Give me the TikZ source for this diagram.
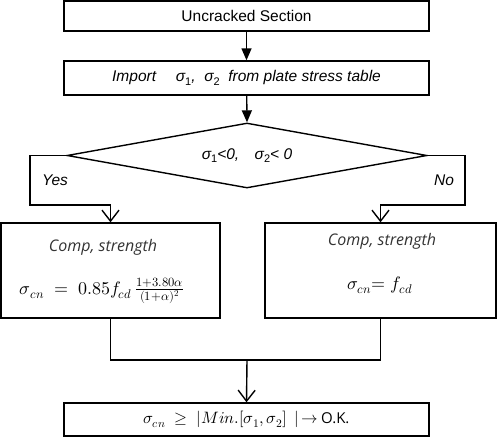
\documentclass[tikz,border=0pt]{standalone}
\usepackage{fontspec}
\usepackage{unicode-math}
\setmainfont{Liberation Sans}
\newfontfamily\lightfont{Open Sans}
\usetikzlibrary{arrows.meta,shapes.geometric}
\newcommand{\sg}[1]{σ\raisebox{-3.5pt}{\fontsize{11}{11}\selectfont\upshape #1}}
\tikzset{
  box/.style={draw, line width=1.4pt, inner sep=0pt, minimum height=#1},
  txt/.style={inner sep=0pt, font=\fontsize{15.5}{18}\selectfont},
  lighttxt/.style={inner sep=0pt, font=\fontsize{16}{19}\selectfont\lightfont\itshape, text=black!80},
  mathtxt/.style={inner sep=0pt, font=\fontsize{18}{21}\selectfont},
  bmathtxt/.style={inner sep=0pt, font=\fontsize{16.5}{20}\selectfont},
  conn/.style={line width=1.4pt},
  filledarrow/.style={conn, -{Triangle[length=12pt,width=10pt]}},
  openarrow/.style={conn, -{Straight Barb[length=11pt,width=17pt,line width=1.4pt]}}
}
\begin{document}
\begin{tikzpicture}[x=1pt,y=-1pt]
\useasboundingbox (0,0) rectangle (500,442);
% boxes
\node[box=30pt, minimum width=365pt, txt] (b1) at (246.5,16) {Uncracked Section};
\node[box=34pt, minimum width=365pt, txt] (b2) at (246.5,78) {\itshape Import\quad\ \sg{1},\ \ \sg{2}\ \ from plate stress table};
\node[draw, line width=1.4pt, diamond, aspect=5.54, inner sep=0pt, minimum width=360pt, minimum height=65pt, txt] (dia) at (247,155.5) {\itshape \sg{1}<0,\quad \sg{2}< 0};
\node[box=95pt, minimum width=219pt] (lb) at (110.5,270.5) {};
\node[box=95pt, minimum width=231pt] (rb) at (380.5,270.5) {};
\node[box=33pt, minimum width=365pt, bmathtxt] (bb) at (246.5,419.5) {$\sigma_{cn}\;\geq\;|Min.[\sigma_1,\sigma_2]\;\,|\,{\rightarrow}$\,{\lightfont\fontsize{15}{18}\selectfont O.K.}};
% texts in boxes
\node[lighttxt] (lc1) at (103,247) {Comp, strength};
\node[mathtxt] (lf) at (102,291) {$\sigma_{cn}\;=\;0.85f_{cd}\,\frac{1+3.80\alpha}{(1+\alpha)^2}$};
\node[lighttxt] (rc1) at (382,241) {Comp, strength};
\node[mathtxt] (rf) at (380,285) {$\sigma_{cn}{=}\;f_{cd}$};
% labels
\node[txt, font=\fontsize{15.5}{18}\selectfont\itshape] (yes) at (55,180) {Yes};
\node[txt, font=\fontsize{15.5}{18}\selectfont\itshape] (no) at (444,180) {No};
% coordinates
\coordinate (lcorner) at (30,205);
\coordinate (rcorner) at (465,205);
\coordinate (merge) at (247,360);
% connectors
\draw[filledarrow] (b1) -- (b2);
\draw[filledarrow] (b2) -- (dia.north);
\draw[openarrow] (dia.west) -- (dia.west -| lcorner) -- (lcorner) -- (lcorner -| lb) -- (lb.north);
\draw[openarrow] (dia.east) -- (dia.east -| rcorner) -- (rcorner) -- (rcorner -| rb) -- (rb.north);
\draw[conn] (lb.south) -- (lb.south |- merge) -- (rb.south |- merge) -- (rb.south);
\draw[openarrow] (merge) -- (bb.north);
\end{tikzpicture}
\end{document}
